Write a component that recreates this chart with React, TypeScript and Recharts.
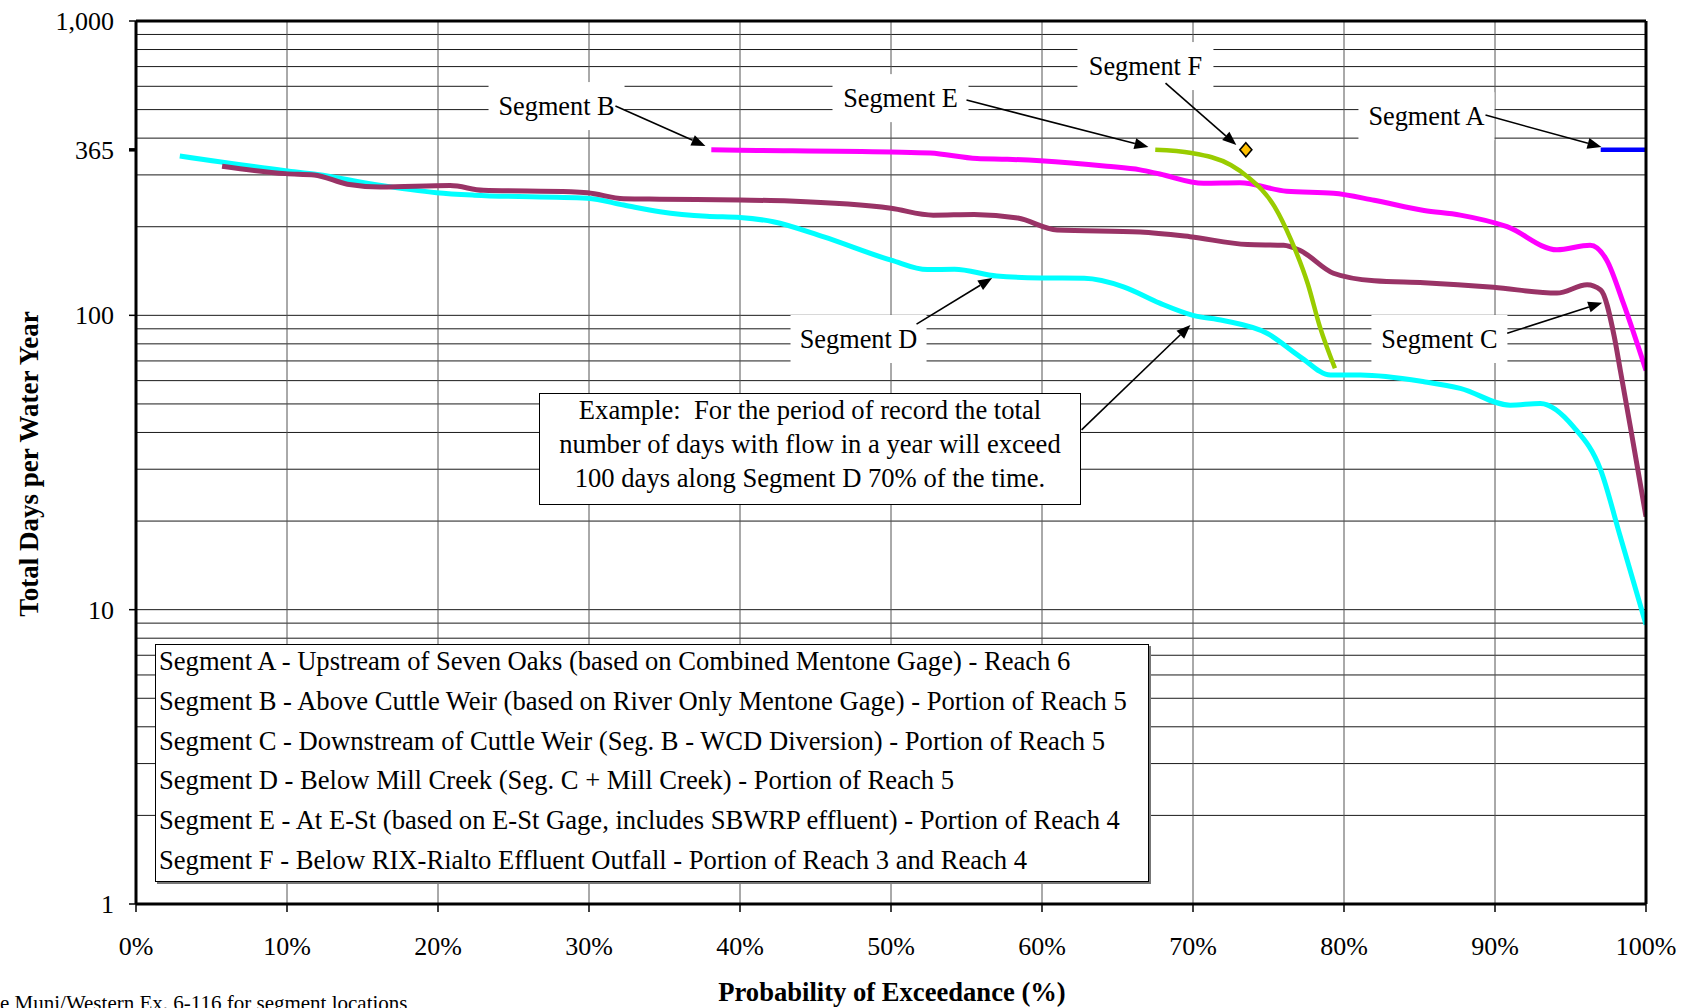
import React from 'react';
import { ComposedChart, Line, XAxis, YAxis, ReferenceLine, ReferenceDot } from 'recharts';

const FONT = "'Liberation Serif', 'Times New Roman', Times, serif";

type Pt = { p: number; v: number };
const toPoints = (rows: number[][]): Pt[] => rows.map(([p, v]) => ({ p, v }));

// Probability of exceedance (%) vs. total days with flow per water year
const segmentA = toPoints([
  [97.0, 365], [100, 365],
]);

const segmentB = toPoints([
  [38.1, 365], [40.0, 364], [50.0, 359], [52.6, 356], [55.7, 341], [57.7, 339],
  [59.9, 335], [64.3, 321], [66.5, 312], [67.8, 302], [70.7, 281], [73.1, 282],
  [76.2, 264], [79.3, 260], [82.0, 246], [85.3, 227], [87.7, 219], [90.8, 200],
  [94.1, 167], [96.3, 173], [97.4, 154], [98.5, 110], [100, 65],
]);

const segmentC = toPoints([
  [5.7, 321], [9.9, 303], [11.8, 300], [14.0, 279], [16.2, 273], [20.8, 276],
  [23.0, 266], [28.8, 263], [29.9, 261], [32.3, 249], [34.7, 248], [40.0, 246.5],
  [43.3, 244.5], [50.0, 231], [52.8, 219], [55.5, 220], [58.4, 214], [61.0, 195],
  [66.5, 192], [69.8, 185], [73.6, 174], [76.0, 173], [77.1, 166], [79.3, 139],
  [82.0, 131], [85.3, 129], [89.9, 124.5], [94.1, 119], [96.1, 127], [97.0, 122],
  [97.9, 84.6], [98.3, 65], [99.0, 40.8], [100, 20.7],
]);

const segmentD = toPoints([
  [2.9, 348], [9.9, 310], [12.0, 301], [15.7, 279], [19.9, 261], [22.4, 256],
  [29.9, 250], [32.3, 237], [34.7, 225], [37.8, 217], [40.0, 215], [42.2, 208],
  [45.5, 185], [50.0, 154], [52.4, 143], [54.2, 143.4], [57.0, 136], [59.9, 134],
  [62.8, 133.6], [65.4, 125], [67.8, 110], [70.0, 100], [72.0, 96], [74.9, 86.9],
  [77.1, 72.3], [79.1, 62.7], [81.1, 62.7], [85.3, 59.5], [87.7, 56.5], [91.0, 49.5],
  [93.0, 50.2], [95.2, 41.8], [97.0, 29.8], [98.3, 17.7], [100, 8.9],
]);

const segmentE = toPoints([
  [67.5, 365], [69.9, 356], [72.5, 324], [73.6, 296], [75.4, 234], [76.5, 180],
  [77.6, 128], [78.4, 91.5], [79.4, 66.1],
]);

const segmentF = toPoints([
  [73.5, 365],
]);

const xTicks = [0, 10, 20, 30, 40, 50, 60, 70, 80, 90, 100];
const yTicks = [1, 10, 100, 365, 1000];
const xGrid = [10, 20, 30, 40, 50, 60, 70, 80, 90];
const yGrid = [
  2, 3, 4, 5, 6, 7, 8, 9, 10,
  20, 30, 40, 50, 60, 70, 80, 90, 100,
  200, 300, 400, 500, 600, 700, 800, 900,
];

// Callout labels (anchored at data coordinates) and their arrows
const calloutLabels = [
  { text: 'Segment A', p: 85.46, v: 475 },
  { text: 'Segment B', p: 27.85, v: 514 },
  { text: 'Segment C', p: 86.32, v: 83.1 },
  { text: 'Segment D', p: 47.85, v: 83.1 },
  { text: 'Segment E', p: 50.63, v: 547 },
  { text: 'Segment F', p: 66.85, v: 703 },
];

const calloutArrows = [
  { from: [89.37, 479], to: [97.05, 373] },
  { from: [31.75, 514], to: [37.71, 376] },
  { from: [90.81, 86.9], to: [97.1, 110.4] },
  { from: [51.69, 93.4], to: [56.7, 134] },
  { from: [55.0, 539], to: [67.05, 373] },
  { from: [68.18, 615], to: [72.87, 379] },
  { from: [62.62, 40.8], to: [69.83, 92.7] },
];

const legendRows = [
  'Segment A - Upstream of Seven Oaks (based on Combined Mentone Gage) - Reach 6',
  'Segment B - Above Cuttle Weir (based on River Only Mentone Gage) - Portion of Reach 5',
  'Segment C - Downstream of Cuttle Weir (Seg. B - WCD Diversion) - Portion of Reach 5',
  'Segment D - Below Mill Creek (Seg. C + Mill Creek) - Portion of Reach 5',
  'Segment E - At E-St (based on E-St Gage, includes SBWRP effluent) - Portion of Reach 4',
  'Segment F - Below RIX-Rialto Effluent Outfall - Portion of Reach 3 and Reach 4',
];

const exampleLines = [
  'Example:  For the period of record the total',
  'number of days with flow in a year will exceed',
  '100 days along Segment D 70% of the time.',
];

const xTitle = 'Probability of Exceedance (%)';
const yTitle = 'Total Days per Water Year';
const footnote = 'See Muni/Western Ex. 6-116 for segment locations';

const W = 1688;
const H = 1008;

const formatY = (v: number) => (v === 1000 ? '1,000' : String(v));

const YTick = (props: any) => {
  const { x, y, payload } = props;
  const axisX = x + 22;
  const bold = payload.value === 365;
  return (
    <g>
      <line x1={axisX - 7} x2={axisX} y1={y} y2={y} stroke="#000" strokeWidth={bold ? 3.5 : 1.5} />
      <text x={x} y={y} dy="0.35em" textAnchor="end" fontFamily={FONT} fontSize={26} fill="#000">
        {formatY(payload.value)}
      </text>
    </g>
  );
};

const makeLabelShape = (text: string) => (props: any) => {
  const { cx, cy } = props;
  const bw = 136;
  const bh = 48;
  return (
    <g>
      <rect x={cx - bw / 2} y={cy - bh / 2} width={bw} height={bh} fill="#fff" stroke="none" />
      <text x={cx} y={cy + 9} textAnchor="middle" fontFamily={FONT} fontSize={26.3} fill="#000">
        {text}
      </text>
    </g>
  );
};

const arrowShape = (props: any) => {
  const { x1, y1, x2, y2 } = props;
  const dx = x2 - x1;
  const dy = y2 - y1;
  const len = Math.sqrt(dx * dx + dy * dy) || 1;
  const ux = dx / len;
  const uy = dy / len;
  const hl = 14;
  const hw = 5.5;
  const bx = x2 - ux * hl;
  const by = y2 - uy * hl;
  const pts = `${x2},${y2} ${bx - uy * hw},${by + ux * hw} ${bx + uy * hw},${by - ux * hw}`;
  return (
    <g>
      <line x1={x1} y1={y1} x2={bx} y2={by} stroke="#000" strokeWidth={1.6} />
      <polygon points={pts} fill="#000" />
    </g>
  );
};

const diamondDot = (props: any) => {
  const { cx, cy } = props;
  if (cx == null || cy == null) return <g />;
  const r = 7;
  return (
    <polygon
      key="seg-f"
      points={`${cx},${cy - r} ${cx + r - 1},${cy} ${cx},${cy + r} ${cx - r + 1},${cy}`}
      fill="#FFC000"
      stroke="#000"
      strokeWidth={1.6}
    />
  );
};

export default function App() {
  return (
    <div
      style={{
        position: 'absolute',
        left: 0,
        top: 0,
        width: W,
        height: H,
        background: '#fff',
        overflow: 'hidden',
        fontFamily: FONT,
      }}
    >
      <ComposedChart width={W} height={H} margin={{ top: 21, right: 42, bottom: 0, left: 0 }}>
        <XAxis
          dataKey="p"
          type="number"
          domain={[0, 100]}
          ticks={xTicks}
          allowDataOverflow
          height={104}
          tickFormatter={(v: number) => `${v}%`}
          axisLine={false}
          tickSize={8}
          tickMargin={25}
          tickLine={{ stroke: '#000', strokeWidth: 1.5 }}
          tick={{ fontFamily: FONT, fontSize: 26, fill: '#000' }}
        />
        <YAxis
          dataKey="v"
          type="number"
          scale="log"
          domain={[1, 1000]}
          ticks={yTicks}
          allowDataOverflow
          width={136}
          axisLine={false}
          tickLine={false}
          tickSize={7}
          tickMargin={15}
          tick={YTick}
        />

        {yGrid.map((v) => (
          <ReferenceLine key={`gy${v}`} y={v} stroke="#1a1a1a" strokeWidth={1} zIndex={-50} />
        ))}
        {xGrid.map((p) => (
          <ReferenceLine key={`gx${p}`} x={p} stroke="#555" strokeWidth={1} zIndex={-50} />
        ))}

        {calloutLabels.map((c) => (
          <ReferenceDot
            key={c.text}
            x={c.p}
            y={c.v}
            r={1}
            shape={makeLabelShape(c.text)}
            zIndex={-40}
          />
        ))}

        <Line data={segmentD} dataKey="v" type="monotone" stroke="#00FFFF" strokeWidth={5} dot={false} isAnimationActive={false} />
        <Line data={segmentC} dataKey="v" type="monotone" stroke="#993366" strokeWidth={5} dot={false} isAnimationActive={false} />
        <Line data={segmentB} dataKey="v" type="monotone" stroke="#FF00FF" strokeWidth={5} dot={false} isAnimationActive={false} />
        <Line data={segmentE} dataKey="v" type="monotone" stroke="#99CC00" strokeWidth={4.5} dot={false} isAnimationActive={false} />
        <Line data={segmentA} dataKey="v" type="linear" stroke="#0000FF" strokeWidth={4.5} dot={false} isAnimationActive={false} />
        <Line data={segmentF} dataKey="v" type="linear" stroke="none" dot={diamondDot} isAnimationActive={false} />

        {calloutArrows.map((a, i) => (
          <ReferenceLine
            key={`ar${i}`}
            segment={[{ x: a.from[0], y: a.from[1] }, { x: a.to[0], y: a.to[1] }]}
            shape={arrowShape}
            zIndex={700}
          />
        ))}

        <ReferenceLine y={1} stroke="#000" strokeWidth={3} zIndex={800} />
        <ReferenceLine y={1000} stroke="#000" strokeWidth={3} zIndex={800} />
        <ReferenceLine x={0} stroke="#000" strokeWidth={3} zIndex={800} />
        <ReferenceLine x={100} stroke="#000" strokeWidth={3} zIndex={800} />
      </ComposedChart>

      {/* Example text box */}
      <div
        style={{
          position: 'absolute',
          left: 539,
          top: 393,
          width: 542,
          height: 112,
          boxSizing: 'border-box',
          border: '1.5px solid #000',
          background: '#fff',
          fontSize: 26.6,
          lineHeight: '34.2px',
          textAlign: 'center',
          whiteSpace: 'pre',
          color: '#000',
        }}
      >
        <div style={{ position: 'relative', top: -1 }}>
          {exampleLines.map((l) => (
            <div key={l}>{l}</div>
          ))}
        </div>
      </div>

      {/* Segment description box */}
      <div
        style={{
          position: 'absolute',
          left: 155,
          top: 644,
          width: 994,
          height: 238,
          boxSizing: 'border-box',
          border: '1.5px solid #000',
          boxShadow: '2px 2px 0 #777',
          background: '#fff',
          fontSize: 26.6,
          lineHeight: '39.8px',
          whiteSpace: 'pre',
          color: '#000',
          paddingLeft: 3,
        }}
      >
        <div style={{ position: 'relative', top: -3 }}>
          {legendRows.map((l) => (
            <div key={l}>{l}</div>
          ))}
        </div>
      </div>

      {/* Axis titles and note */}
      <svg
        width={W}
        height={H}
        style={{ position: 'absolute', left: 0, top: 0, pointerEvents: 'none' }}
      >
        <text x={892} y={1001} textAnchor="middle" fontFamily={FONT} fontSize={26.6} fontWeight="bold" fill="#000">
          {xTitle}
        </text>
        <text
          x={38}
          y={464}
          textAnchor="middle"
          fontFamily={FONT}
          fontSize={27}
          fontWeight="bold"
          fill="#000"
          transform="rotate(-90 38 464)"
        >
          {yTitle}
        </text>
        <text x={-21} y={1010} fontFamily={FONT} fontSize={21} fill="#000">
          {footnote}
        </text>
      </svg>
    </div>
  );
}
